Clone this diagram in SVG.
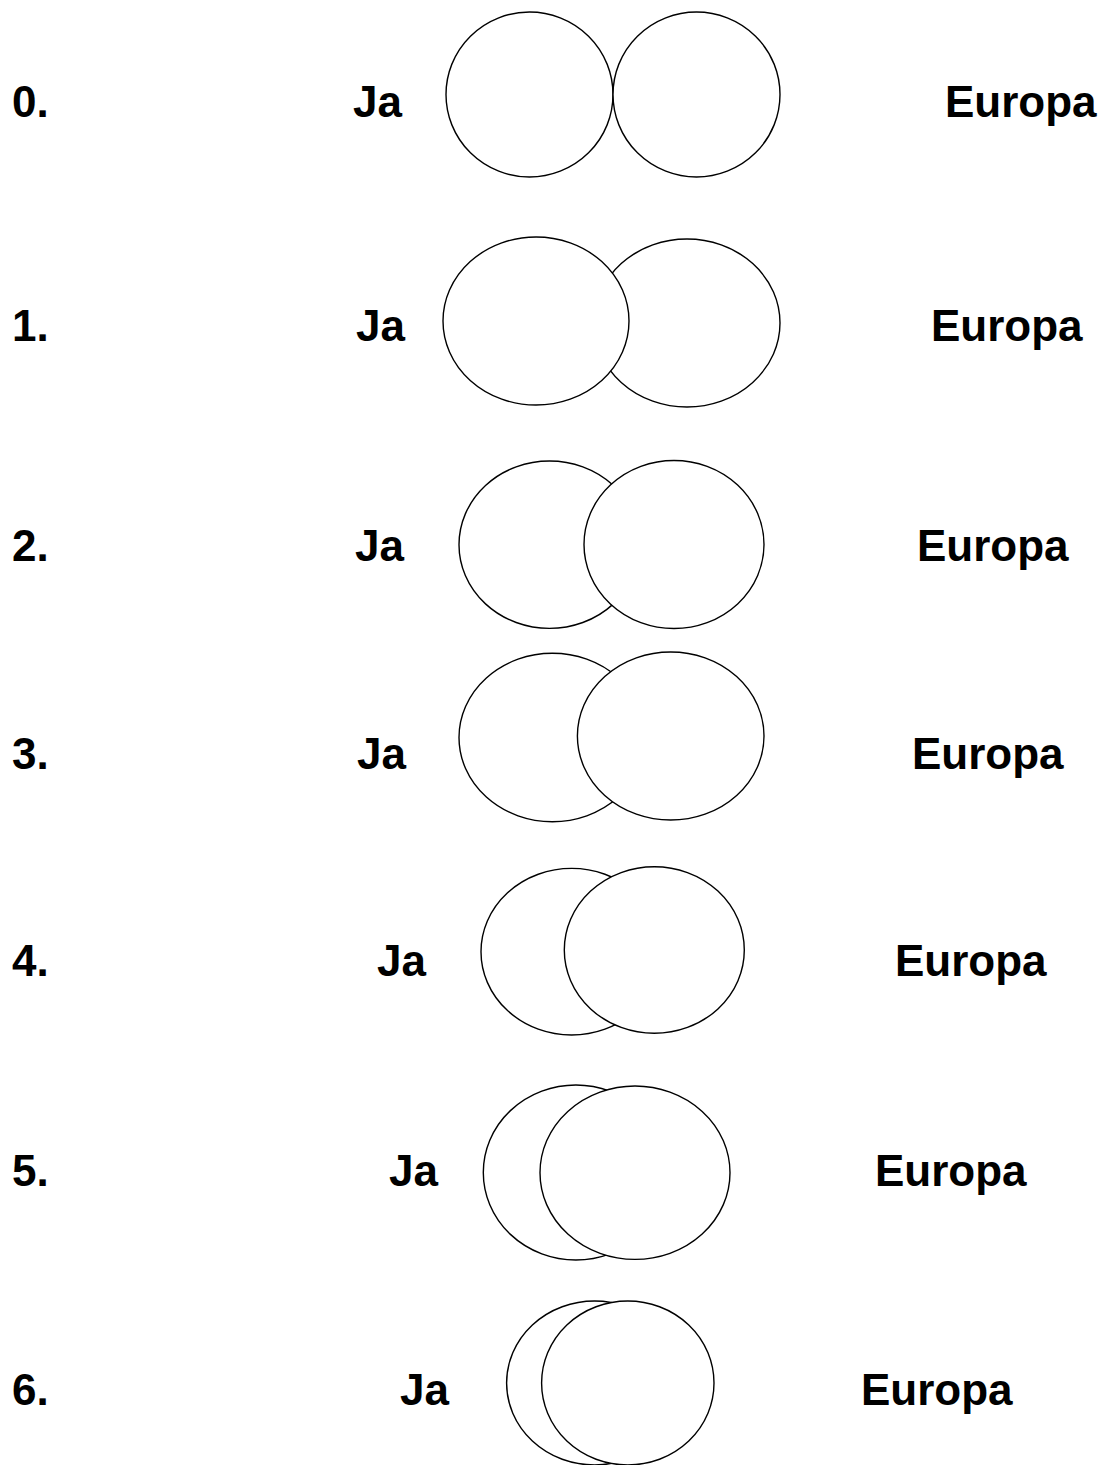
<svg xmlns="http://www.w3.org/2000/svg" width="1112" height="1465" viewBox="0 0 1112 1465">
<style>
text{font-family:"Liberation Sans",Arial,sans-serif;font-weight:bold;font-size:44px;fill:#000}
ellipse{fill:#fff;stroke:#000;stroke-width:1.4}
</style>
<rect width="1112" height="1465" fill="#fff"/>
<g id="row0">
<text x="12" y="117">0.</text><text x="353" y="117">Ja</text><text x="945" y="117">Europa</text>
<ellipse id="ja0" cx="529.5" cy="94.5" rx="83.5" ry="82.5"/>
<ellipse id="eu0" cx="696.5" cy="94.5" rx="83.5" ry="82.5"/>
</g>
<g id="row1">
<text x="12" y="341">1.</text><text x="356" y="341">Ja</text><text x="931" y="341">Europa</text>
<ellipse id="eu1" cx="687" cy="323" rx="93" ry="84"/>
<ellipse id="ja1" cx="536" cy="321" rx="93" ry="84"/>
</g>
<g id="row2">
<text x="12" y="561">2.</text><text x="355" y="561">Ja</text><text x="917" y="561">Europa</text>
<ellipse id="ja2" cx="549.5" cy="544.7" rx="90.5" ry="83.7"/>
<ellipse id="eu2" cx="674" cy="544.5" rx="90" ry="84"/>
</g>
<g id="row3">
<text x="12" y="769">3.</text><text x="357" y="769">Ja</text><text x="912" y="769">Europa</text>
<ellipse id="ja3" cx="552.4" cy="737.5" rx="93.4" ry="84.2"/>
<ellipse id="eu3" cx="670.7" cy="736" rx="93.3" ry="84"/>
</g>
<g id="row4">
<text x="12" y="976">4.</text><text x="377" y="976">Ja</text><text x="895" y="976">Europa</text>
<ellipse id="ja4" cx="571.6" cy="951.7" rx="90.6" ry="83.3"/>
<ellipse id="eu4" cx="654.3" cy="950" rx="90" ry="83.3"/>
</g>
<g id="row5">
<text x="12" y="1186">5.</text><text x="389" y="1186">Ja</text><text x="875" y="1186">Europa</text>
<ellipse id="ja5" cx="575.9" cy="1172.5" rx="92.6" ry="87.5"/>
<ellipse id="eu5" cx="635" cy="1172.7" rx="95" ry="86.7"/>
</g>
<g id="row6">
<text x="12" y="1405">6.</text><text x="400" y="1405">Ja</text><text x="861" y="1405">Europa</text>
<ellipse id="ja6" cx="594.6" cy="1383" rx="88" ry="82"/>
<ellipse id="eu6" cx="627.8" cy="1383" rx="86.2" ry="82"/>
</g>
<g id="connectors"/>
</svg>
